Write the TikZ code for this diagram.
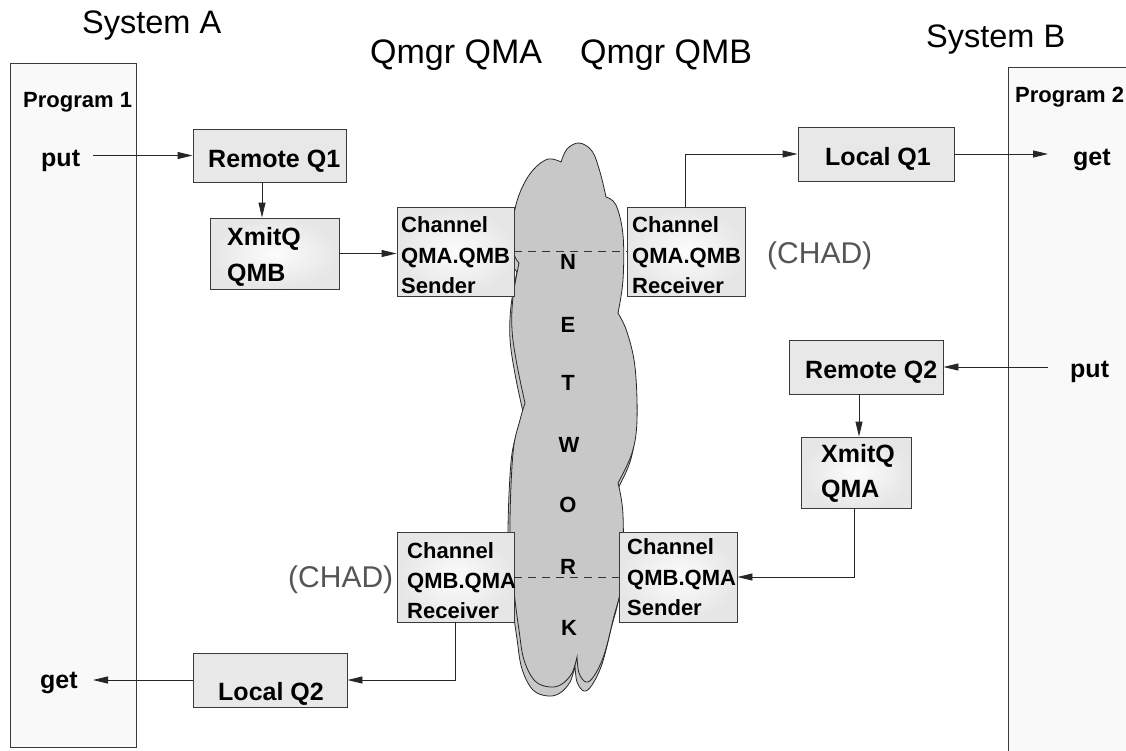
\documentclass[tikz,border=0pt]{standalone}
\usepackage{fontspec}
\setmainfont{Liberation Sans}
\usetikzlibrary{arrows.meta,calc}

\definecolor{boxedge}{HTML}{3A3A3A}
\definecolor{boxfill}{HTML}{E8E8E8}
\definecolor{shadein}{HTML}{FCFCFC}
\definecolor{shadeout}{HTML}{E6E6E6}
\definecolor{progfill}{HTML}{F9F9F9}
\definecolor{cloudfill}{HTML}{C8C8C8}
\definecolor{chadgray}{HTML}{555555}

% outline of the network cloud, built from lobes that meet in sharp notches
\newcommand\netcloudoutline{%
  plot[smooth,tension=0.6] coordinates {(561,162) (567,149) (579,143) (592,151) (600,172) (606,197)}
  -- plot[smooth,tension=0.6] coordinates {(606,197) (616,205) (623,235) (623,280) (618,313)}
  -- plot[smooth,tension=0.6] coordinates {(618,313) (627,332) (635,367) (637,420) (632,453) (618,483)}
  -- plot[smooth,tension=0.6] coordinates {(618,483) (623,515) (622,580) (613,620) (604,655) (594,676) (586,682) (579,673) (577,657)}
  -- plot[smooth,tension=0.6] coordinates {(577,657) (572,673) (562,684) (550,687) (535,681) (524,660) (519,630) (514,590) (510,530) (513,453) (520,420) (525,403)}
  -- plot[smooth,tension=0.6] coordinates {(525,403) (517,365) (512,330) (513,297) (519,263)}
  -- plot[smooth,tension=0.6] coordinates {(519,263) (513,250) (514,215) (521,190) (533,170) (548,159) (561,162)}
  -- cycle}

\begin{document}
\begin{tikzpicture}[x=1pt,y=-1pt,
  qbox/.style={draw=boxedge, fill=boxfill, line width=0.9pt, inner sep=0pt},
  gbox/.style={draw=boxedge, line width=0.9pt, inner sep=0pt, inner color=shadein, outer color=shadeout},
  progbox/.style={draw=boxedge, fill=progfill, line width=0.9pt, inner sep=0pt},
  cloud/.style={fill=cloudfill, draw=black!85, line width=0.8pt},
  title/.style={font=\fontsize{32.5}{38}\selectfont, inner sep=0pt, anchor=base west},
  qmgr/.style={font=\fontsize{34}{40}\selectfont, inner sep=0pt, anchor=base west},
  lbl/.style={font=\fontsize{25}{30}\selectfont\bfseries, inner sep=0pt, anchor=base west},
  chl/.style={font=\fontsize{22}{26}\selectfont\bfseries, inner sep=0pt, anchor=base west},
  progl/.style={font=\fontsize{22}{26}\selectfont\bfseries, inner sep=0pt, anchor=base west},
  chad/.style={font=\fontsize{30}{36}\selectfont, text=chadgray, inner sep=0pt, anchor=base west},
  netl/.style={font=\fontsize{22}{26}\selectfont\bfseries, inner sep=0pt},
  flow/.style={draw=black!85, line width=0.9pt, -{Triangle[length=15pt,width=7pt]}},
  link/.style={draw=black!80, line width=0.9pt, dash pattern=on 8pt off 6pt},
]
\useasboundingbox (0,0) rectangle (1126,750);
\clip (0,0) rectangle (1126,750);

% headings
\node[title] (sysA) at (82,33) {System A};
\node[title] (sysB) at (926,47) {System B};
\node[qmgr] (qmA) at (370,63) {Qmgr QMA};
\node[qmgr] (qmB) at (580,63) {Qmgr QMB};

% the two application programs
\node[progbox, minimum width=126pt, minimum height=684pt] (prog1) at (73,405) {};
\node[progbox, minimum width=132pt, minimum height=693pt] (prog2) at (1074,413.5) {};
\node[progl] (prog1t) at (23,107) {Program 1};
\node[progl] (prog2t) at (1015,102) {Program 2};

% network cloud with its shadow
\path[cloud, shift={(-2,9)}] \netcloudoutline;
\path[cloud] \netcloudoutline;

\node[netl] (nN) at (568,261.5) {N};
\node[netl] (nE) at (568,324.5) {E};
\node[netl] (nT) at (568,382.5) {T};
\node[netl] (nW) at (569,445) {W};
\node[netl] (nO) at (568,505) {O};
\node[netl] (nR) at (568,566.5) {R};
\node[netl] (nK) at (569,627.5) {K};

% queues and channels
\node[qbox, minimum width=153pt, minimum height=53pt] (rq1) at (269.5,155.5) {};
\node[gbox, minimum width=129pt, minimum height=71pt] (xq1) at (274.5,253.5) {};
\node[gbox, minimum width=117pt, minimum height=89pt] (chs1) at (455.5,251.5) {};
\node[gbox, minimum width=118pt, minimum height=89pt] (chr1) at (686,251.5) {};
\node[qbox, minimum width=156pt, minimum height=54pt] (lq1) at (876,154) {};
\node[qbox, minimum width=154pt, minimum height=54pt] (rq2) at (866,367) {};
\node[gbox, minimum width=110pt, minimum height=71pt] (xq2) at (856,472.5) {};
\node[gbox, minimum width=117pt, minimum height=90pt] (chr2) at (455.5,577) {};
\node[gbox, minimum width=118pt, minimum height=90pt] (chs2) at (678,577) {};
\node[qbox, minimum width=154pt, minimum height=54pt] (lq2) at (270,680) {};

% labels
\node[lbl] (putA) at (41,166) {put};
\node[lbl] (getA) at (40,688) {get};
\node[lbl] (getB) at (1073,165) {get};
\node[lbl] (putB) at (1070,377) {put};
\node[lbl] (rq1t) at (208,167) {Remote Q1};
\node[lbl] (xq1a) at (227,245) {XmitQ};
\node[lbl] (xq1b) at (227,281) {QMB};
\node[lbl] (lq1t) at (825,165) {Local Q1};
\node[lbl] (rq2t) at (805,378) {Remote Q2};
\node[lbl] (xq2a) at (821,462) {XmitQ};
\node[lbl] (xq2b) at (821,497) {QMA};
\node[lbl] (lq2t) at (218,700) {Local Q2};

\node[chl] (chs1a) at (401,232) {Channel};
\node[chl] (chs1b) at (401,263) {QMA.QMB};
\node[chl] (chs1c) at (401,293) {Sender};
\node[chl] (chr1a) at (632,232) {Channel};
\node[chl] (chr1b) at (632,263) {QMA.QMB};
\node[chl] (chr1c) at (632,293) {Receiver};
\node[chl] (chr2a) at (407,558) {Channel};
\node[chl] (chr2b) at (407,588) {QMB.QMA};
\node[chl] (chr2c) at (407,618) {Receiver};
\node[chl] (chs2a) at (627,554) {Channel};
\node[chl] (chs2b) at (627,585) {QMB.QMA};
\node[chl] (chs2c) at (627,615) {Sender};

\node[chad] (chadB) at (767,263) {(CHAD)};
\node[chad] (chadA) at (288,587) {(CHAD)};

% free ends of the program connectors
\coordinate (putAend) at (93,155.5);
\coordinate (getAend) at (93,680);
\coordinate (getBend) at (1048,154);
\coordinate (putBend) at (1048,367);

% message flow
\draw[flow] (putAend) -- (rq1.west);
\draw[flow] ([xshift=-7.5pt]rq1.south) -- ([xshift=-7.5pt]rq1.south |- xq1.north);
\draw[flow] (xq1.east) -- (xq1.east -| chs1.west);
\draw[link] (chs1.east) -- (chr1.west);
\draw[flow] ([xshift=-1pt]chr1.north) |- (lq1.west);
\draw[flow] (lq1.east) -- (getBend);
\draw[flow] (putBend) -- (rq2.east);
\draw[flow] ([xshift=-7pt]rq2.south) -- ([xshift=-7pt]rq2.south |- xq2.north);
\draw[flow] ([xshift=-2pt]xq2.south) |- (chs2.east);
\draw[link] (chr2.east) -- (chs2.west);
\draw[flow] (chr2.south) |- (lq2.east);
\draw[flow] (lq2.west) -- (getAend);
\end{tikzpicture}
\end{document}
